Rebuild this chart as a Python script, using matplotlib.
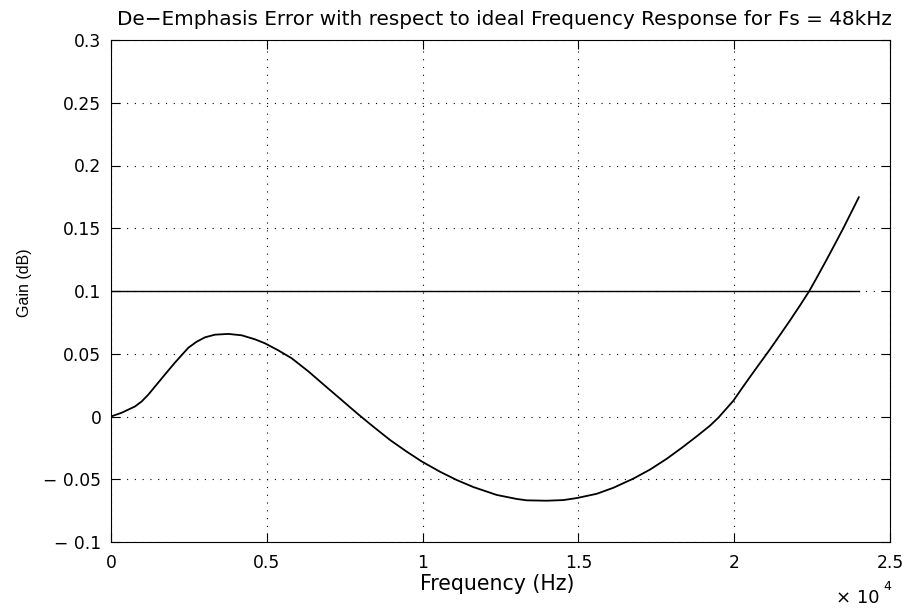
import numpy as np
import matplotlib
matplotlib.use("Agg")
import matplotlib.pyplot as plt

# values (frequency in Hz, gain error in dB)
freq = [0, 343, 770, 985, 1200, 1733, 2054, 2482, 2750, 3017, 3338, 3765,
        4193, 4621, 4942, 5369, 5799, 6332, 6868, 7403, 7937, 8418, 8954,
        9490, 9971, 10558, 11094, 11627, 12378, 13020, 13341, 13983, 14515,
        14946, 15587, 16121, 16763, 17298, 17834, 18315, 18797, 19223, 19490,
        19971, 20292, 20613, 21148, 21470, 21790, 22112, 22410, 22647, 22967,
        23235, 23501, 24000]
gain = [0.0, 0.0030, 0.0080, 0.0120, 0.0175, 0.0335, 0.0430, 0.0548, 0.0596,
        0.0631, 0.0652, 0.0658, 0.0647, 0.0615, 0.0583, 0.0527, 0.0464, 0.0360,
        0.0245, 0.0131, 0.0017, -0.0081, -0.0187, -0.0280, -0.0358, -0.0440,
        -0.0506, -0.0562, -0.0625, -0.0657, -0.0668, -0.0671, -0.0666, -0.0650,
        -0.0616, -0.0568, -0.0495, -0.0423, -0.0337, -0.0250, -0.0158, -0.0073,
        -0.0010, 0.0125, 0.0240, 0.0352, 0.0535, 0.0650, 0.0765, 0.0885, 0.1,
        0.1105, 0.1250, 0.1375, 0.1500, 0.1747]
limit_x = [0, 24000]
limit_y = [0.1, 0.1]

xticks = [0, 5000, 10000, 15000, 20000, 25000]
xticklabels = ["0", "0.5", "1", "1.5", "2", "2.5"]
yticks = [-0.1, -0.05, 0, 0.05, 0.1, 0.15, 0.2, 0.25, 0.3]
yticklabels = ["\u2212 0.1", "\u2212 0.05", "0", "0.05", "0.1", "0.15", "0.2", "0.25", "0.3"]

plt.rcParams["font.family"] = ["DejaVu Sans"]

fig = plt.figure(figsize=(9.07, 6.09), dpi=100)
ax = fig.add_axes([111 / 907, 1 - 542 / 609, 779 / 907, 502 / 609])

ax.plot(freq, gain, color="black", lw=1.3)
ax.plot(limit_x, limit_y, color="black", lw=1.0)

ax.set_xlim(0, 25000)
ax.set_ylim(-0.1, 0.3)
ax.set_xticks(xticks)
ax.set_xticklabels(xticklabels)
ax.set_yticks(yticks)
ax.set_yticklabels(yticklabels)
ax.grid(True, color="black", linestyle=(0, (1, 6)), lw=0.8)
ax.tick_params(direction="in", length=6.5, width=0.8, top=True, right=True,
               labelsize=12.3)
ax.tick_params(axis="x", pad=9)
ax.tick_params(axis="y", pad=7)
for sp in ax.spines.values():
    sp.set_linewidth(0.8)

# title and labels placed in pixels like the original
fig.text(504 / 907, 1 - 25 / 609,
         "De\u2212Emphasis Error with respect to ideal Frequency Response for Fs = 48kHz",
         fontsize=14.4, ha="center", va="baseline")
fig.text(497 / 907, 1 - 590 / 609, "Frequency (Hz)", fontsize=14.8,
         ha="center", va="baseline")
fig.text(24 / 907, 1 - 283 / 609, "Gain (dB)", fontsize=11.5, rotation=90,
         ha="center", va="center", family="Liberation Sans")
fig.text(836 / 907, 1 - 603 / 609, "\u00d7 10", fontsize=13, va="baseline")
fig.text(883 / 907, 1 - 590 / 609, "4", fontsize=9, va="baseline")

fig.savefig("out.png", dpi=100)
